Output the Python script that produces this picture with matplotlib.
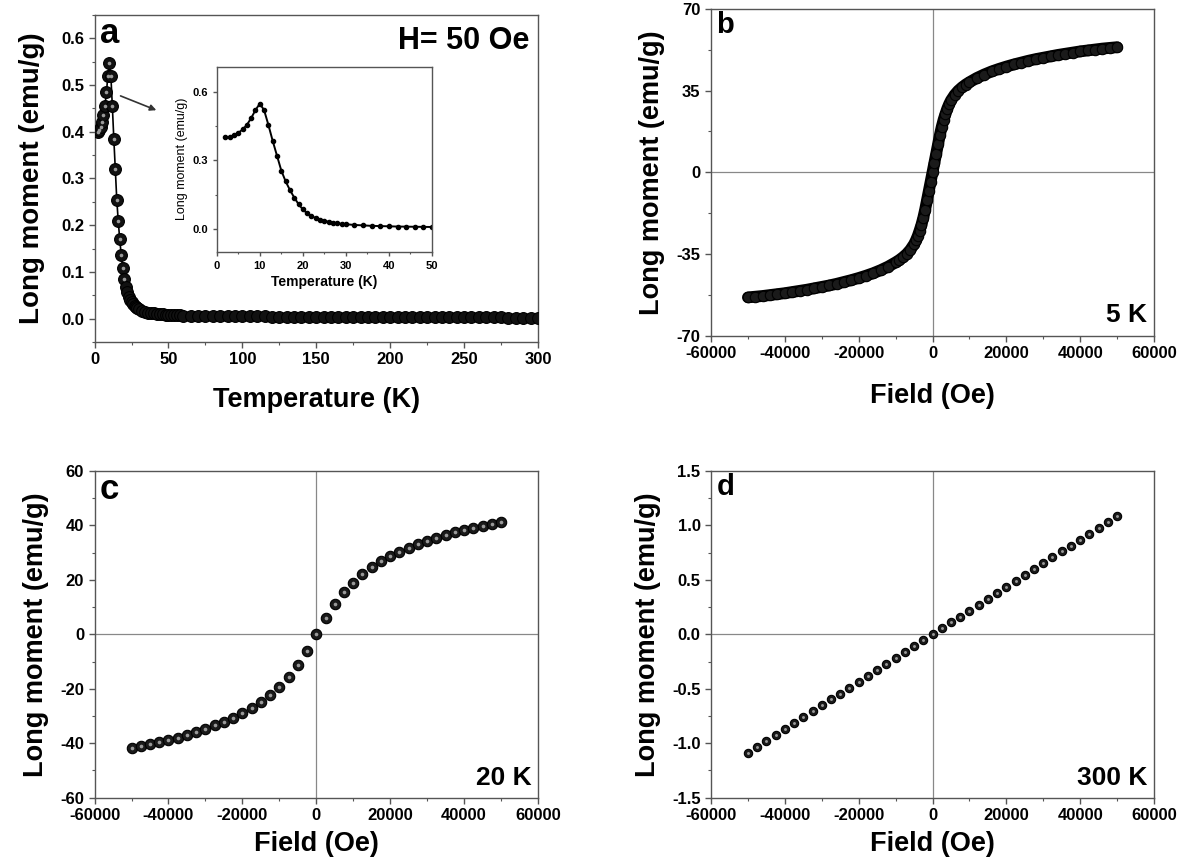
import matplotlib
matplotlib.use('Agg')
import matplotlib.pyplot as plt
from matplotlib.ticker import MultipleLocator, FormatStrFormatter

plt.rcParams['font.family'] = ['Liberation Sans', 'DejaVu Sans']
plt.rcParams['font.weight'] = 'bold'
plt.rcParams['axes.labelweight'] = 'bold'
plt.rcParams['axes.unicode_minus'] = False

# (a) moment vs temperature, H = 50 Oe
temp_a = list(range(2, 31)) + list(range(32, 61, 2)) + list(range(65, 301, 5))
mom_a = [0.400, 0.403, 0.410, 0.420, 0.435, 0.455, 0.485, 0.520, 0.548, 0.520,
         0.455, 0.385, 0.320, 0.255, 0.208, 0.170, 0.137, 0.108, 0.085, 0.068,
         0.056, 0.047, 0.040, 0.035, 0.031, 0.027, 0.024, 0.022, 0.020,
         0.017, 0.015, 0.013, 0.012, 0.011, 0.010, 0.0095, 0.009, 0.0085, 0.008,
         0.0077, 0.0074, 0.0071, 0.0068, 0.0065,
         0.0062, 0.0060, 0.0058, 0.0056, 0.0054, 0.0052, 0.0050, 0.0049, 0.0048, 0.0047,
         0.0046, 0.0045, 0.0044, 0.0043, 0.0042, 0.0041, 0.0040, 0.0039, 0.0038, 0.0037,
         0.0036, 0.0036, 0.0035, 0.0034, 0.0034, 0.0033, 0.0032, 0.0032, 0.0031, 0.0031,
         0.0030, 0.0030, 0.0029, 0.0029, 0.0028, 0.0028, 0.0027, 0.0027, 0.0026, 0.0026,
         0.0025, 0.0025, 0.0025, 0.0024, 0.0024, 0.0023, 0.0023, 0.0023]

# (b) M(H) at 5 K
field_b = [-50000, -48000, -46000, -44000, -42000, -40000, -38000, -36000, -34000, -32000,
           -30000, -28000, -26000, -24000, -22000, -20000, -18000, -16000, -14000, -12000,
           -10000, -9000, -8000, -7000, -6000, -5000, -4500, -4000, -3500, -3000,
           -2500, -2000, -1500, -1000, -500, 0, 500, 1000, 1500, 2000,
           2500, 3000, 3500, 4000, 4500, 5000, 6000, 7000, 8000, 9000,
           10000, 12000, 14000, 16000, 18000, 20000, 22000, 24000, 26000, 28000,
           30000, 32000, 34000, 36000, 38000, 40000, 42000, 44000, 46000, 48000, 50000]
mom_b = [-53.6, -53.3, -53.0, -52.6, -52.2, -51.8, -51.3, -50.8, -50.3, -49.7,
         -49.1, -48.5, -47.8, -47.0, -46.2, -45.3, -44.3, -43.2, -41.9, -40.4,
         -38.6, -37.6, -36.4, -35.0, -33.2, -30.8, -29.2, -27.3, -25.0, -22.5,
         -19.5, -16.0, -12.0, -8.0, -4.0, 0.0, 4.0, 8.0, 12.0, 16.0,
         19.5, 22.5, 25.0, 27.3, 29.2, 30.8, 33.2, 35.0, 36.4, 37.6,
         38.6, 40.4, 41.9, 43.2, 44.3, 45.3, 46.2, 47.0, 47.8, 48.5,
         49.1, 49.7, 50.3, 50.8, 51.3, 51.8, 52.2, 52.6, 53.0, 53.3, 53.6]

# (c) M(H) at 20 K
field_c = list(range(-50000, 50001, 2500))
mom_c = [-41.8, -41.1, -40.4, -39.7, -39.0, -38.0, -37.0, -35.9, -34.7, -33.4,
         -32.1, -30.6, -28.9, -27.0, -24.8, -22.2, -19.2, -15.5, -11.3, -6.2,
         0.0, 6.0, 11.3, 15.5, 19.0, 22.0, 24.6, 26.8, 28.6, 30.3,
         31.8, 33.2, 34.4, 35.5, 36.5, 37.5, 38.3, 39.1, 39.8, 40.5, 41.3]

# (d) M(H) at 300 K
field_d = list(range(-50000, 50001, 2500))
mom_d = [-1.087, -1.033, -0.978, -0.924, -0.870, -0.815, -0.761, -0.707, -0.652, -0.598,
         -0.544, -0.489, -0.435, -0.381, -0.326, -0.272, -0.218, -0.163, -0.109, -0.054,
         0.0, 0.054, 0.109, 0.163, 0.218, 0.272, 0.326, 0.381, 0.435, 0.489,
         0.544, 0.598, 0.652, 0.707, 0.761, 0.815, 0.870, 0.924, 0.978, 1.033, 1.087]

SPINE = '#555555'


def style(ax, fs=12):
    for s in ax.spines.values():
        s.set_color(SPINE)
        s.set_linewidth(1.0)
    ax.tick_params(which='both', direction='out', colors=SPINE, labelcolor='black',
                   top=False, right=False, labelsize=fs)
    ax.tick_params(which='major', length=4, width=1)
    ax.tick_params(which='minor', length=2.5, width=0.8)


def balls(ax, x, y, ms, hl=True):
    ax.plot(x, y, 'o', ms=ms, mfc='#1a1a1a', mec='black', mew=0.8, zorder=3)
    if hl:
        ax.plot(x, y, 'o', ms=ms * 0.35, mfc='#9a9a9a', mec='none', zorder=4)


fig = plt.figure(figsize=(11.87, 8.66), dpi=100)

# ---- a
ax = fig.add_axes([0.0797, 0.6051, 0.3735, 0.3776])
ax.plot(temp_a, mom_a, '-', color='black', lw=1.2, zorder=2)
ax.plot(temp_a, mom_a, 'o', ms=8.5, mfc='#111111', mec='black', mew=0.8, zorder=3)
peak = [i for i, t in enumerate(temp_a) if t <= 20]
ax.plot([temp_a[i] for i in peak], [mom_a[i] for i in peak], 'o', ms=2.6,
        mfc='#9a9a9a', mec='none', zorder=4)
ax.set_xlim(0, 300)
ax.set_ylim(-0.05, 0.65)
ax.xaxis.set_major_locator(MultipleLocator(50))
ax.xaxis.set_minor_locator(MultipleLocator(25))
ax.yaxis.set_major_locator(MultipleLocator(0.1))
ax.yaxis.set_minor_locator(MultipleLocator(0.05))
ax.yaxis.set_major_formatter(FormatStrFormatter('%.1f'))
style(ax)
ax.set_xlabel('Temperature (K)', fontsize=19.5, labelpad=14)
ax.set_ylabel('Long moment (emu/g)', fontsize=20, labelpad=12)
ax.text(0.012, 0.995, 'a', transform=ax.transAxes, fontsize=25, va='top', ha='left')
ax.text(0.98, 0.965, 'H= 50 Oe', transform=ax.transAxes, fontsize=22, va='top', ha='right')
ax.annotate('', xy=(43.5, 0.444), xytext=(15.8, 0.479),
            arrowprops=dict(arrowstyle='-|>', color='#333333', lw=1.2, mutation_scale=9))

# inset
ins = fig.add_axes([0.1826, 0.7094, 0.1813, 0.2136])
sel = [i for i, t in enumerate(temp_a) if t <= 50]
ins.plot([temp_a[i] for i in sel], [mom_a[i] for i in sel], '-o', color='black',
         lw=1.4, ms=3)
ins.set_xlim(0, 50)
ins.set_ylim(-0.1, 0.71)
ins.xaxis.set_major_locator(MultipleLocator(10))
ins.xaxis.set_minor_locator(MultipleLocator(5))
ins.yaxis.set_major_locator(MultipleLocator(0.3))
ins.yaxis.set_minor_locator(MultipleLocator(0.15))
ins.yaxis.set_major_formatter(FormatStrFormatter('%.1f'))
style(ins, fs=8)
ins.tick_params(which='major', length=3)
ins.tick_params(which='minor', length=1.5)
ins.set_xlabel('Temperature (K)', fontsize=10, labelpad=3)
ins.set_ylabel('Long moment (emu/g)', fontsize=9, fontweight='normal', labelpad=3)


def loop_axes(rect, x, y, ylim, ymaj, letter, tlabel, ms, hl, line=False, lfs=21,
              xpad=8):
    ax = fig.add_axes(rect)
    ax.axhline(0, color='#888888', lw=0.9, zorder=1)
    ax.axvline(0, color='#888888', lw=0.9, zorder=1)
    if line:
        ax.plot(x, y, '-', color='black', lw=8.5, solid_capstyle='round', zorder=2)
    balls(ax, x, y, ms, hl=hl)
    ax.set_xlim(-60000, 60000)
    ax.set_ylim(*ylim)
    ax.xaxis.set_major_locator(MultipleLocator(20000))
    ax.xaxis.set_minor_locator(MultipleLocator(10000))
    ax.yaxis.set_major_locator(MultipleLocator(ymaj))
    ax.yaxis.set_minor_locator(MultipleLocator(ymaj / 2))
    style(ax)
    ax.set_xlabel('Field (Oe)', fontsize=19.5, labelpad=xpad)
    ax.set_ylabel('Long moment (emu/g)', fontsize=19.5, labelpad=8)
    ax.text(0.012, 0.995, letter, transform=ax.transAxes, fontsize=lfs, va='top', ha='left')
    ax.text(0.985, 0.025, tlabel, transform=ax.transAxes, fontsize=19, va='bottom', ha='right')
    return ax


axb = loop_axes([0.599, 0.6124, 0.3732, 0.3773], field_b, mom_b, (-70, 70), 35,
                'b', '5 K', 7.5, False, line=True, xpad=16)
axc = loop_axes([0.0797, 0.0789, 0.3735, 0.3773], field_c, mom_c, (-60, 60), 20,
                'c', '20 K', 7.5, True, lfs=25, xpad=6)
axd = loop_axes([0.599, 0.0789, 0.3732, 0.3773], field_d, mom_d, (-1.5, 1.5), 0.5,
                'd', '300 K', 6, True, xpad=6)
axd.yaxis.set_major_formatter(FormatStrFormatter('%.1f'))

fig.savefig('out.png', dpi=100)
